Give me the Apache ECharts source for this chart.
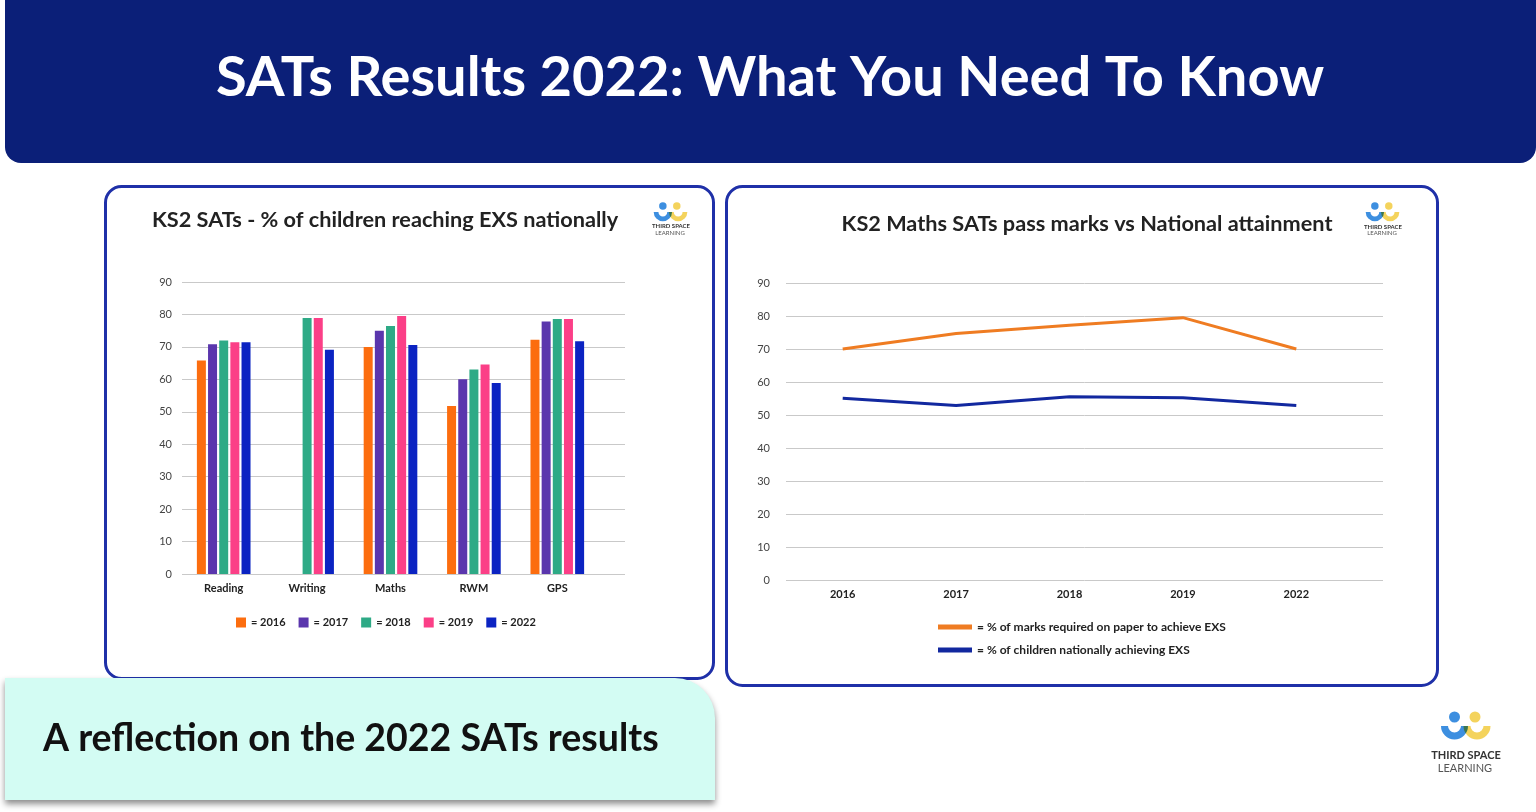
<!DOCTYPE html>
<html>
<head>
<meta charset="utf-8">
<script src="https://cdn.jsdelivr.net/npm/echarts@6/dist/echarts.min.js"></script>
<style>
html,body{margin:0;padding:0;background:#fff;}
#c{width:1536px;height:812px;}
</style>
</head>
<body>
<div id="c"></div>
<script>
// ---- data ----
const subjects = ['Reading', 'Writing', 'Maths', 'RWM', 'GPS'];
const barYears = ['2016', '2017', '2018', '2019', '2022'];
const v2016 = [65.8, null, 70.0, 51.8, 72.2];
const v2017 = [70.8, null, 75.0, 60.0, 77.8];
const v2018 = [72.0, 78.9, 76.4, 63.0, 78.6];
const v2019 = [71.4, 78.9, 79.5, 64.6, 78.6];
const v2022 = [71.4, 69.1, 70.6, 58.9, 71.7];
const lineYears = ['2016', '2017', '2018', '2019', '2022'];
const passMarks = [70.0, 74.7, 77.2, 79.5, 70.0];
const nationalExs = [55.1, 52.9, 55.5, 55.2, 52.9];
const passName = '% of marks required on paper to achieve EXS';
const natName = '% of children nationally achieving EXS';

const FONT = 'Lato, "Noto Sans", sans-serif';
const barColors = ['#fc6d0f', '#5a36ad', '#2eaa86', '#fb3f87', '#0b23c2'];
const barData = [v2016, v2017, v2018, v2019, v2022];

function logo(cx, cy, s, t1, t2, fs) {
  return {
    type: 'group', x: cx, y: cy, z: 5,
    children: [
      {type: 'sector', shape: {cx: -10.5 * s, cy: 9 * s, r: 13.5 * s, r0: 6.5 * s, startAngle: 0, endAngle: Math.PI}, style: {fill: '#3d8fe0'}},
      {type: 'sector', shape: {cx: 12 * s, cy: 9 * s, r: 13.5 * s, r0: 6.5 * s, startAngle: 0, endAngle: Math.PI}, style: {fill: '#f4d35c', blend: 'multiply'}},
      {type: 'circle', shape: {cx: -10.5 * s, cy: 0, r: 5.5 * s}, style: {fill: '#3d8fe0'}},
      {type: 'circle', shape: {cx: 10 * s, cy: 0, r: 5.5 * s}, style: {fill: '#f4d35c'}},
      {type: 'text', style: {text: 'THIRD SPACE', x: 1, y: t1, textAlign: 'center', textVerticalAlign: 'middle', font: 'bold ' + fs + 'px ' + FONT, fill: '#333'}},
      {type: 'text', style: {text: 'LEARNING', x: 0, y: t2, textAlign: 'center', textVerticalAlign: 'middle', font: fs + 'px ' + FONT, fill: '#555'}}
    ]
  };
}

const chart = echarts.init(document.getElementById('c'), null, {renderer: 'canvas'});

const graphics = [
  {type: 'rect', z: -10, shape: {x: 5, y: 0, width: 1531, height: 163, r: [0, 0, 16, 16]}, style: {fill: '#0b1f78'}},
  {type: 'text', z: -9, style: {text: 'SATs Results 2022: What You Need To Know', x: 770, y: 78, textAlign: 'center', textVerticalAlign: 'middle', font: 'bold 56px ' + FONT, fill: '#ffffff'}},
  {type: 'rect', z: -10, shape: {x: 105.5, y: 186.5, width: 608, height: 492, r: 16}, style: {fill: '#fff', stroke: '#1f30a8', lineWidth: 3}},
  {type: 'rect', z: -10, shape: {x: 726.5, y: 186.5, width: 711, height: 499, r: 16}, style: {fill: '#fff', stroke: '#1f30a8', lineWidth: 3}},
  {type: 'rect', z: -8, shape: {x: 5, y: 678, width: 710, height: 122, r: [0, 40, 0, 0]}, style: {fill: '#d3fcf3', shadowBlur: 6, shadowOffsetY: 4, shadowColor: 'rgba(0,0,0,0.45)'}},
  {type: 'text', z: -7, style: {text: 'A reflection on the 2022 SATs results', x: 43, y: 739, textAlign: 'left', textVerticalAlign: 'middle', font: 'bold 37.5px ' + FONT, fill: '#111'}},
  {type: 'text', z: 1, style: {text: 'KS2 SATs - % of children reaching EXS nationally', x: 152, y: 220, textAlign: 'left', textVerticalAlign: 'middle', font: 'bold 21.7px ' + FONT, fill: '#222'}},
  {type: 'text', z: 1, style: {text: 'KS2 Maths SATs pass marks vs National attainment', x: 1087, y: 224, textAlign: 'center', textVerticalAlign: 'middle', font: 'bold 21.7px ' + FONT, fill: '#222'}},
  logo(1465, 717, 1, 38, 51, 11),
  logo(670, 206, 0.68, 20.5, 27, 6),
  logo(1382, 206, 0.68, 21, 27.5, 6)
];

const gridLine = {show: true, lineStyle: {color: '#c9c9c9', width: 1}};
const yLabel = {fontSize: 11, color: '#444', fontFamily: FONT};
const xLabel = {fontSize: 11, color: '#222', fontWeight: 'bold', fontFamily: FONT};

const option = {
  animation: false,
  graphic: graphics,
  grid: [
    {left: 182, top: 282, width: 417, height: 292},
    {left: 182, top: 282, width: 443, height: 292},
    {left: 786, top: 283, width: 567, height: 297},
    {left: 786, top: 283, width: 597, height: 297}
  ],
  xAxis: [
    {type: 'category', gridIndex: 0, data: subjects, axisLine: {show: false}, axisTick: {show: false}, axisLabel: Object.assign({margin: 9}, xLabel)},
    {type: 'category', gridIndex: 1, data: subjects, show: false},
    {type: 'category', gridIndex: 2, data: lineYears, boundaryGap: true, axisLine: {show: false}, axisTick: {show: false}, axisLabel: Object.assign({margin: 9}, xLabel)},
    {type: 'category', gridIndex: 3, data: lineYears, show: false}
  ],
  yAxis: [
    {type: 'value', gridIndex: 0, min: 0, max: 90, interval: 10, show: false},
    {type: 'value', gridIndex: 1, min: 0, max: 90, interval: 10, axisLine: {show: false}, axisTick: {show: false}, splitLine: gridLine, axisLabel: Object.assign({margin: 10}, yLabel)},
    {type: 'value', gridIndex: 2, min: 0, max: 90, interval: 10, show: false},
    {type: 'value', gridIndex: 3, min: 0, max: 90, interval: 10, axisLine: {show: false}, axisTick: {show: false}, splitLine: gridLine, axisLabel: Object.assign({margin: 16}, yLabel)}
  ],
  legend: [
    {left: 236, top: 617, padding: 0, data: barYears, icon: 'rect', itemWidth: 10, itemHeight: 10, itemGap: 13, formatter: '= {name}', textStyle: {fontSize: 11, fontWeight: 'bold', color: '#222', fontFamily: FONT}, selectedMode: false},
    {left: 938, top: 621, padding: 0, orient: 'vertical', data: [passName, natName], icon: 'rect', itemWidth: 34, itemHeight: 5, itemGap: 11, formatter: '= {name}', textStyle: {fontSize: 12, fontWeight: 'bold', color: '#222', fontFamily: FONT}, selectedMode: false}
  ],
  series: barYears.map((y, i) => ({
    name: y, type: 'bar', xAxisIndex: 0, yAxisIndex: 0, data: barData[i],
    barWidth: 9, barGap: '24%', itemStyle: {color: barColors[i]}
  })).concat([
    {name: passName, type: 'line', xAxisIndex: 2, yAxisIndex: 2, data: passMarks, symbol: 'none', lineStyle: {width: 3, color: '#ef7c22'}, itemStyle: {color: '#ef7c22'}},
    {name: natName, type: 'line', xAxisIndex: 2, yAxisIndex: 2, data: nationalExs, symbol: 'none', lineStyle: {width: 3, color: '#12289f'}, itemStyle: {color: '#12289f'}}
  ])
};
chart.setOption(option);
</script>
</body>
</html>
